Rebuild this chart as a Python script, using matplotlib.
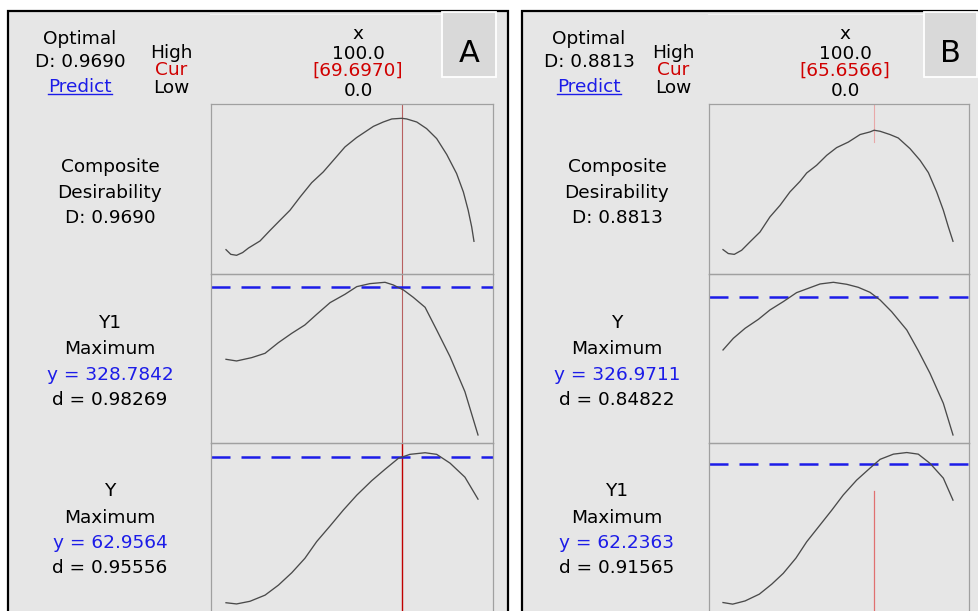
import matplotlib
matplotlib.use('Agg')
import matplotlib.pyplot as plt
from matplotlib.patches import Rectangle

plt.rcParams['font.family'] = ['DejaVu Sans']

W, H = 979, 611

# --- datos ---
x_cur_a = 69.6970
x_cur_b = 65.6566

a_comp_x = [0, 1.9, 4.2, 6.6, 8.9, 13.5, 17.5, 21.4, 25.4, 29.4, 34.0, 38.6, 42.6, 47.2, 51.8,
            58.5, 62.4, 65.8, 69.7, 71.7, 75.7, 79.6, 83.6, 87.6, 91.5, 94.2, 96.1, 97.5, 98.4]
a_comp_d = [0.153, 0.124, 0.118, 0.135, 0.163, 0.207, 0.273, 0.335, 0.398, 0.480, 0.569, 0.636,
            0.708, 0.791, 0.849, 0.919, 0.946, 0.965, 0.969, 0.965, 0.946, 0.905, 0.843, 0.744,
            0.626, 0.511, 0.398, 0.294, 0.205]

a_y1_x = [0, 4.2, 10.2, 15.5, 20.8, 26.1, 31.3, 36.0, 41.3, 47.2, 51.9, 57.1, 63.1, 66.4, 70.4,
          74.3, 79.0, 83.6, 88.9, 94.8, 100]
a_y1_y = [285.2, 284.2, 286.2, 288.8, 295.2, 300.8, 305.8, 312.2, 319.2, 324.2, 328.8, 330.6,
          331.4, 329.8, 326.8, 322.4, 316.4, 302.8, 286.8, 265.8, 239.8]

a_y_x = [0, 4.2, 9.5, 15.5, 20.8, 26.1, 31.3, 36.0, 41.3, 46.6, 51.9, 57.8, 63.1, 68.4, 73.0,
         79.0, 83.6, 88.9, 94.8, 100]
a_y_y = [26.6, 26.3, 26.96, 28.5, 31.0, 34.1, 37.7, 41.9, 45.8, 49.8, 53.5, 57.1, 59.96, 62.7,
         63.7, 64.1, 63.7, 61.5, 58.0, 52.5]

b_comp_x = [0, 2.3, 4.9, 8.1, 11.7, 16.1, 20.4, 24.8, 29.1, 33.5, 36.4, 40.7, 45.1, 49.4, 54.5,
            59.6, 63.9, 65.7, 68.3, 72.6, 76.2, 81.3, 85.7, 89.3, 92.9, 95.8, 98.0, 100]
b_comp_d = [0.151, 0.127, 0.122, 0.147, 0.198, 0.259, 0.351, 0.422, 0.504, 0.569, 0.620, 0.667,
            0.728, 0.775, 0.809, 0.855, 0.871, 0.8813, 0.875, 0.855, 0.834, 0.769, 0.697, 0.622,
            0.504, 0.392, 0.289, 0.202]

b_y_x = [0, 4.5, 9.6, 15.4, 20.4, 26.2, 32.0, 37.1, 42.2, 48.0, 53.8, 58.8, 63.9, 68.3, 73.3,
         79.9, 84.9, 90.0, 95.8, 100]
b_y_y = [295.0, 302.0, 308.0, 313.4, 319.0, 324.0, 329.4, 332.0, 334.6, 335.6, 334.4, 332.6,
         329.6, 325.0, 318.0, 307.0, 294.6, 281.0, 263.0, 244.0]

b_y1_x = [0, 4.2, 9.6, 15.8, 21.2, 26.2, 31.7, 36.4, 42.2, 47.3, 52.3, 58.1, 63.9, 68.3, 74.1,
          79.9, 84.9, 90.0, 95.8, 100]
b_y1_y = [27.6, 27.2, 28.0, 29.7, 32.2, 34.9, 38.7, 42.8, 47.0, 50.7, 54.5, 58.2, 61.2, 63.4,
          64.7, 65.1, 64.7, 62.4, 58.7, 53.2]

# textos por panel
a_textos = [["Composite", "Desirability", "D: 0.9690"],
            ["Y1", "Maximum", "y = 328.7842", "d = 0.98269"],
            ["Y", "Maximum", "y = 62.9564", "d = 0.95556"]]
b_textos = [["Composite", "Desirability", "D: 0.8813"],
            ["Y", "Maximum", "y = 326.9711", "d = 0.84822"],
            ["Y1", "Maximum", "y = 62.2363", "d = 0.91565"]]

GRIS = '#e6e6e6'
AZUL = '#1c1ce8'
ROJO = '#d00000'
CURVA = '#4a4a4a'
FS = 13.3

filas_y = [104.3, 274.3, 443.3, 612.3]


def rect_fig(x0, y0, x1, y1):
    return [x0 / W, 1 - y1 / H, (x1 - x0) / W, (y1 - y0) / H]


fig = plt.figure(figsize=(W / 100, H / 100), dpi=100)
fig.patch.set_facecolor('white')
bg = fig.add_axes([0, 0, 1, 1])
bg.set_xlim(0, W)
bg.set_ylim(H, 0)
bg.axis('off')


def dibujar_panel(cfg):
    # marco y fondo
    bg.add_patch(Rectangle((cfg['borde'][0], 11), cfg['borde'][1] - cfg['borde'][0], 640,
                           facecolor=GRIS, edgecolor='black', lw=1.6, zorder=1))
    bg.plot([cfg['plot'][0] - 1, cfg['caja'][0]], [13.6, 13.6], color='#f4f4f4', lw=0.8, zorder=2)
    # caja de la letra
    bg.add_patch(Rectangle((cfg['caja'][0], 12), cfg['caja'][1] - cfg['caja'][0], 65,
                           facecolor='#d9d9d9', edgecolor='white', lw=1.3, zorder=2))
    bg.text(sum(cfg['caja']) / 2, 61.7, cfg['letra'], fontsize=22, ha='center',
            va='baseline', zorder=3)

    # cabecera
    xo = cfg['x_opt']
    bg.text(xo, 44, "Optimal", fontsize=FS, ha='center', va='baseline', zorder=3)
    bg.text(xo, 66.7, cfg['d_opt'], fontsize=FS, ha='center', va='baseline', zorder=3)
    t = bg.text(xo, 91.7, "Predict", fontsize=FS, ha='center', va='baseline', color=AZUL, zorder=3)
    fig.canvas.draw()
    bb = t.get_window_extent(fig.canvas.get_renderer())
    bg.plot([bb.x0, bb.x1], [94.3, 94.3], color=AZUL, lw=1.0, zorder=3)

    xh = cfg['x_hcl']
    bg.text(xh, 58.3, "High", fontsize=FS, ha='center', va='baseline', zorder=3)
    bg.text(xh, 75, "Cur", fontsize=FS, ha='center', va='baseline', color=ROJO, zorder=3)
    bg.text(xh, 92.7, "Low", fontsize=FS, ha='center', va='baseline', zorder=3)

    xc = cfg['x_col']
    bg.text(xc, 39.3, "x", fontsize=FS, ha='center', va='baseline', zorder=3)
    bg.text(xc, 59.3, "100.0", fontsize=FS, ha='center', va='baseline', zorder=3)
    bg.text(xc, 76, f"[{cfg['x_cur']:.4f}]", fontsize=FS, ha='center', va='baseline',
            color=ROJO, zorder=3)
    bg.text(xc, 96, "0.0", fontsize=FS, ha='center', va='baseline', zorder=3)

    # textos de la izquierda
    bases = [[172.3, 198.3, 223.3], [327.7, 354.3, 380, 405], [496, 523.3, 548.3, 573.3]]
    for lineas, ys in zip(cfg['textos'], bases):
        for txt, yb in zip(lineas, ys):
            color = AZUL if txt.startswith('y =') else 'black'
            bg.text(cfg['x_lab'], yb, txt, fontsize=FS, ha='center', va='baseline',
                    color=color, zorder=3)

    # graficos
    x0, x1 = cfg['plot']
    for k, serie in enumerate(cfg['series']):
        ax = fig.add_axes(rect_fig(x0, filas_y[k], x1, filas_y[k + 1]))
        ax.set_facecolor('none')
        ax.set_zorder(5)
        for sp in ax.spines.values():
            sp.set_color('#a0a0a0')
            sp.set_linewidth(0.9)
        ax.set_xticks([])
        ax.set_yticks([])
        ax.set_xlim(cfg['xlim'])
        ax.set_ylim(serie['ylim'])
        lr = cfg['linea_roja'][k]
        if lr is not None:
            ax.axvline(cfg['x_cur'], ymin=lr[0], ymax=lr[1], color=lr[2], lw=lr[3], zorder=1)
        if serie['y_cur'] is not None:
            ax.axhline(serie['y_cur'], color=AZUL, lw=1.8, dashes=(7.6, 4.4), zorder=2)
        ax.plot(serie['x'], serie['y'], color=CURVA, lw=0.95, zorder=3)


cfg_a = dict(letra='A', borde=(8, 508), caja=(442, 496), plot=(211, 493),
             xlim=(-5.95, 105.95), x_cur=x_cur_a, d_opt="D: 0.9690",
             x_opt=80, x_hcl=171.5, x_col=358, x_lab=110, textos=a_textos,
             linea_roja=[(0, 1, '#b86060', 0.8), (0, 1, '#b86060', 0.8), (0, 1, '#c00000', 1.0)],
             series=[dict(x=a_comp_x, y=a_comp_d, ylim=(0, 1.056), y_cur=None),
                     dict(x=a_y1_x, y=a_y1_y, ylim=(234.8, 336.2), y_cur=328.7842),
                     dict(x=a_y_x, y=a_y_y, ylim=(24.21, 66.46), y_cur=62.9564)])

cfg_b = dict(letra='B', borde=(522, 1010), caja=(924, 977), plot=(709, 969),
             xlim=(-6.09, 106.96), x_cur=x_cur_b, d_opt="D: 0.8813",
             x_opt=589, x_hcl=673, x_col=845, x_lab=617, textos=b_textos,
             linea_roja=[(0.78, 1, '#e8a8a8', 0.8), None, (0, 0.72, '#e07070', 0.9)],
             series=[dict(x=b_comp_x, y=b_comp_d, ylim=(0, 1.040), y_cur=None),
                     dict(x=b_y_x, y=b_y_y, ylim=(239.0, 340.4), y_cur=326.9711),
                     dict(x=b_y1_x, y=b_y1_y, ylim=(25.16, 67.41), y_cur=62.2363)])

dibujar_panel(cfg_a)
dibujar_panel(cfg_b)

fig.savefig('out.png', dpi=100, facecolor='white')
